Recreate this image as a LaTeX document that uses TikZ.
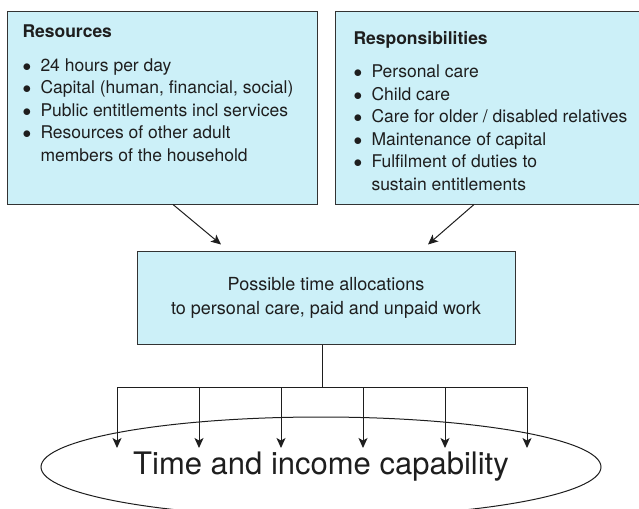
\documentclass[tikz,border=0pt]{standalone}
\usepackage{fontspec}
\setmainfont{TeX Gyre Heros}
\usetikzlibrary{arrows.meta,positioning,shapes.geometric}
\definecolor{boxfill}{RGB}{204,240,248}
\definecolor{boxline}{HTML}{333333}
\definecolor{ink}{HTML}{1E1E1E}
\newcommand{\bul}[1]{\makebox[18pt][l]{$\bullet$}#1}
\newcommand{\indt}{\hspace*{18pt}}

\begin{document}
\begin{tikzpicture}[x=1pt,y=-1pt,>={Stealth[length=10pt,width=9pt,inset=2.5pt]},line width=1pt]
\tikzset{box/.style={draw=boxline,fill=boxfill,minimum width=310pt,minimum height=192pt,inner sep=0pt},
  list/.style={anchor=north west,inner sep=0pt,align=left,text=ink,font=\fontsize{17.5}{22.5}\selectfont},
  link/.style={->,draw=ink}}
\useasboundingbox (0,0) rectangle (639,508);
% the two input boxes
\node[box] (res) at (162,108) {};
\node[box] (resp) at (490,108) {};
\node[list] (resList) at (22,24.5) {\textbf{Resources}\\[11pt]
  \bul{24 hours per day}\\
  \bul{Capital (human, financial, social)}\\
  \bul{Public entitlements incl services}\\
  \bul{Resources of other adult}\\
  \indt members of the household};
\node[list] (respList) at (353,30.5) {\textbf{Responsibilities}\\[11pt]
  \bul{Personal care}\\
  \bul{Child care}\\
  \bul{Care for older / disabled relatives}\\
  \bul{Maintenance of capital}\\
  \bul{Fulfilment of duties to}\\
  \indt sustain entitlements};
% allocation box
\node[box,minimum width=378pt,minimum height=93pt,align=center,text=ink,
  font=\fontsize{18}{24}\selectfont] (mid) at (326,297.5)
  {Possible time allocations\\to personal care, paid and unpaid work};
\draw[link] ([xshift=11pt]res.south) -- ([xshift=-105pt,yshift=6pt]mid.north);
\draw[link] ([xshift=-16pt]resp.south) -- ([xshift=102pt,yshift=6pt]mid.north);
% outcome
\node[ellipse,draw=ink,minimum width=560pt,minimum height=100pt,inner sep=0pt,text=ink,
  font=\fontsize{31}{36}\selectfont] (cap) at (321,467) {Time and income capability};
\coordinate (hub) at (322,387);
\draw[ink] (mid.south -| hub) -- (hub);
\draw[ink] (117,387) -- (527,387);
\foreach \x [count=\i] in {117,199,281,363,445,527}{
  \coordinate (t\i) at (\x,448);
  \draw[link] (hub -| t\i) -- (t\i);
}
\end{tikzpicture}
\end{document}
